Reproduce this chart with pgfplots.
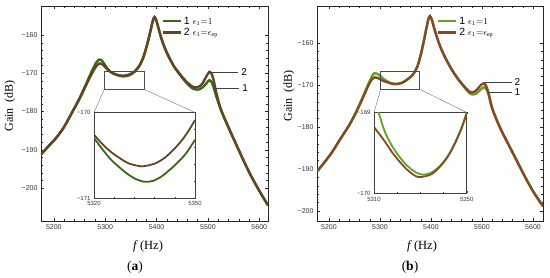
\documentclass[border=0pt]{standalone}
\usepackage{pgfplots}
\pgfplotsset{compat=1.18}
\usepackage{fontspec}
\setmainfont{Liberation Serif}
\setsansfont{Liberation Sans}
\definecolor{gA}{HTML}{3A6818}
\definecolor{bA}{HTML}{634522}
\definecolor{gB}{HTML}{66A026}
\definecolor{bB}{HTML}{844A26}
\pgfplotsset{
  mainax/.style={anchor=south west, scale only axis,
    axis line style={black!85, line width=0.6pt},
    tick style={black!85, line width=0.4pt},
    major tick length=3pt, minor tick length=1.6pt, tick align=inside,
    minor x tick num=4, minor y tick num=4,
    xtick={5200,5300,5400,5500,5600},
    xticklabels={5200,5300,5400,5500,5600},
    ytick={-200,-190,-180,-170,-160},
    yticklabels={−200,−190,−180,−170,−160},
    ticklabel style={font=\sffamily\fontsize{7}{8}\selectfont, text=black!80},
    legend style={draw=none, fill=none, inner sep=0pt, row sep=-1.5pt,
      font=\sffamily\fontsize{10.5}{11}\selectfont},
    legend cell align=left,
    legend image code/.code={\draw[#1] (0pt,0pt) -- (18pt,0pt);},
  },
  inax/.style={anchor=south west, scale only axis,
    axis background/.style={fill=white},
    axis line style={black!75, line width=0.5pt},
    tick style={black!75, line width=0.3pt},
    major tick length=2pt, minor tick length=1pt, tick align=inside,
    ticklabel style={font=\sffamily\fontsize{6}{7}\selectfont, text=black!80},
  },
}
\begin{document}
\begin{tikzpicture}[x=1pt,y=1pt]
\useasboundingbox (0,0) rectangle (550,278);
% ---------------- panel (a) ----------------
\begin{axis}[mainax, at={(41pt,57pt)}, width=227pt, height=215pt,
  xmin=5175, xmax=5617, ymin=-208.6, ymax=-152.4,
  legend style={at={(0.53,0.96)}, anchor=north west}]
\addplot[gA, line width=2.4pt, smooth] coordinates {(5175,-191.2)(5190,-189.0)(5205,-186.8)(5220,-184.0)(5237,-179.8)(5250,-176.5)(5260,-173.6)(5270,-170.6)(5278,-168.3)(5284,-166.9)(5288,-166.4)(5292,-166.5)(5297,-167.3)(5303,-168.5)(5310,-169.6)(5320,-170.3)(5327,-170.63)(5335,-170.81)(5342,-170.69)(5350,-170.32)(5358,-169.5)(5366,-168.2)(5374,-166.0)(5381,-162.8)(5387,-159.6)(5391,-157.2)(5394,-155.7)(5396,-155.3)(5398,-155.6)(5402,-157.3)(5407,-159.8)(5413,-162.3)(5420,-164.6)(5433,-168.0)(5445,-170.3)(5459,-172.6)(5472,-174.1)(5483,-174.2)(5490,-173.6)(5496,-172.8)(5500,-172.1)(5503,-171.8)(5507,-172.2)(5511,-173.6)(5516,-175.9)(5524,-179.1)(5535,-182.6)(5550,-187.1)(5566,-191.8)(5582,-196.3)(5600,-200.7)(5617,-204.5)};
\addlegendentry{1\hspace{3pt}{\fontsize{9}{9}\selectfont$\epsilon_1{=}1$}}
\addplot[bA, line width=2.4pt, smooth] coordinates {(5175,-191.2)(5190,-189.0)(5205,-186.8)(5220,-184.0)(5237,-179.9)(5250,-176.7)(5260,-173.9)(5270,-171.1)(5278,-169.1)(5284,-167.9)(5289,-167.4)(5294,-167.6)(5300,-168.4)(5307,-169.3)(5314,-169.9)(5320,-170.26)(5327,-170.52)(5334,-170.63)(5342,-170.5)(5350,-170.09)(5358,-169.4)(5366,-168.1)(5374,-165.9)(5381,-162.8)(5387,-159.6)(5391,-157.2)(5394,-155.7)(5396,-155.3)(5398,-155.6)(5402,-157.3)(5407,-159.8)(5413,-162.3)(5420,-164.6)(5433,-168.0)(5445,-170.1)(5459,-172.3)(5472,-173.6)(5482,-173.5)(5489,-172.7)(5495,-171.3)(5500,-170.1)(5503,-169.6)(5507,-170.1)(5511,-171.7)(5516,-174.9)(5524,-178.9)(5535,-182.6)(5550,-187.1)(5566,-191.8)(5582,-196.3)(5600,-200.7)(5617,-204.5)};
\addlegendentry{2\hspace{3pt}{\fontsize{9}{9}\selectfont$\epsilon_1{=}\epsilon_{\mathrm{ep}}$}}
\draw[black!70, line width=0.5pt] (axis cs:5298.2,-169.4) rectangle (axis cs:5376.1,-174.2);
\coordinate (a1) at (axis cs:5298.2,-174.2);
\coordinate (a2) at (axis cs:5376.1,-174.2);
\draw[black!75, line width=0.5pt] (axis cs:5505,-169.6) -- (axis cs:5559,-169.6) node[right=-0.5pt, font=\sffamily\fontsize{10}{10}\selectfont, text=black] {2};
\draw[black!75, line width=0.5pt] (axis cs:5511,-173.85) -- (axis cs:5561,-173.85) node[right=-0.5pt, font=\sffamily\fontsize{10}{10}\selectfont, text=black] {1};
\end{axis}
\begin{axis}[inax, name=insA, at={(94pt,80pt)}, width=101pt, height=85.5pt,
  xmin=5320, xmax=5350, ymin=-171, ymax=-170,
  xtick={5320,5350}, xticklabels={5320,5350}, ytick={-171,-170}, yticklabels={−171,−170},
  minor x tick num=4, minor y tick num=4]
\addplot[gA, line width=1.8pt, smooth] coordinates {(5320,-170.30)(5322.5,-170.43)(5325,-170.55)(5327.5,-170.64)(5330,-170.72)(5332.5,-170.78)(5335,-170.81)(5337.5,-170.80)(5340,-170.75)(5342.5,-170.67)(5345,-170.58)(5347.5,-170.47)(5350,-170.32)};
\addplot[bA, line width=1.8pt, smooth] coordinates {(5320,-170.26)(5322.5,-170.37)(5325,-170.46)(5327.5,-170.53)(5330,-170.59)(5332.5,-170.62)(5334,-170.63)(5336,-170.62)(5338.5,-170.59)(5341,-170.53)(5343.5,-170.44)(5346,-170.33)(5348,-170.22)(5350,-170.09)};
\end{axis}
\draw[black!55, line width=0.4pt] (a1) -- (insA.north west);
\draw[black!55, line width=0.4pt] (a2) -- (insA.north east);
% ---------------- panel (b) ----------------
\begin{axis}[mainax, at={(317pt,57pt)}, width=226pt, height=215pt,
  xmin=5176.5, xmax=5619.6, ymin=-202.4, ymax=-151.2,
  legend style={at={(0.53,0.96)}, anchor=north west}]
\addplot[gB, line width=2.4pt, smooth] coordinates {(5176.5,-190.6)(5190,-188.6)(5205,-186.2)(5220,-183.3)(5238,-179.9)(5250,-177.2)(5260,-174.6)(5270,-171.8)(5278,-169.6)(5284,-168.0)(5289,-167.2)(5294,-167.3)(5300,-167.8)(5306,-168.5)(5312,-169.0)(5320,-169.5)(5326,-169.72)(5331,-169.77)(5337,-169.7)(5343,-169.5)(5350,-169.0)(5358,-168.3)(5366,-167.3)(5373,-165.7)(5380,-162.8)(5386,-159.5)(5391,-156.5)(5395,-154.3)(5398,-153.6)(5402,-154.6)(5407,-156.8)(5414,-159.5)(5421,-161.7)(5430,-164.0)(5442,-166.6)(5454,-168.8)(5467,-170.8)(5478,-172.2)(5488,-172.1)(5495,-171.4)(5500,-170.8)(5504,-170.5)(5508,-170.9)(5513,-172.4)(5519,-175.3)(5527,-177.8)(5537,-180.6)(5552,-184.2)(5568,-188.0)(5584,-191.8)(5600,-195.3)(5619.6,-198.9)};
\addlegendentry{1\hspace{3pt}{\fontsize{9}{9}\selectfont$\epsilon_1{=}1$}}
\addplot[bB, line width=2.4pt, smooth] coordinates {(5176.5,-190.6)(5190,-188.6)(5205,-186.2)(5220,-183.3)(5238,-179.9)(5250,-177.3)(5260,-174.8)(5270,-172.1)(5278,-169.9)(5284,-168.7)(5290,-168.2)(5295,-168.3)(5301,-168.7)(5306,-169.0)(5310,-169.18)(5315,-169.40)(5320,-169.59)(5325,-169.74)(5329,-169.80)(5334,-169.76)(5340,-169.60)(5345,-169.40)(5350,-169.0)(5358,-168.3)(5366,-167.3)(5373,-165.7)(5380,-162.8)(5386,-159.5)(5391,-156.5)(5395,-154.3)(5398,-153.6)(5402,-154.6)(5407,-156.8)(5414,-159.5)(5421,-161.7)(5430,-164.0)(5442,-166.6)(5454,-168.7)(5467,-170.6)(5478,-171.8)(5488,-171.4)(5495,-170.4)(5500,-169.8)(5504,-169.6)(5508,-170.2)(5513,-172.0)(5519,-175.1)(5527,-177.8)(5537,-180.6)(5552,-184.2)(5568,-188.0)(5584,-191.8)(5600,-195.3)(5619.6,-198.9)};
\addlegendentry{2\hspace{3pt}{\fontsize{9}{9}\selectfont$\epsilon_1{=}\epsilon_{\mathrm{ep}}$}}
\draw[black!70, line width=0.5pt] (axis cs:5301.4,-166.7) rectangle (axis cs:5377.1,-171.0);
\coordinate (b1) at (axis cs:5301.4,-171.0);
\coordinate (b2) at (axis cs:5377.1,-171.0);
\draw[black!75, line width=0.5pt] (axis cs:5505,-169.35) -- (axis cs:5558,-169.35) node[right=-0.5pt, font=\sffamily\fontsize{10}{10}\selectfont, text=black] {2};
\draw[black!75, line width=0.5pt] (axis cs:5512,-171.7) -- (axis cs:5558,-171.7) node[right=-0.5pt, font=\sffamily\fontsize{10}{10}\selectfont, text=black] {1};
\end{axis}
\begin{axis}[inax, name=insB, at={(374pt,84.7pt)}, width=92.7pt, height=80.8pt,
  xmin=5310, xmax=5350, ymin=-170, ymax=-169,
  xtick={5310,5350}, xticklabels={5310,5350}, ytick={-170,-169}, yticklabels={−170,−169},
  minor x tick num=3, minor y tick num=4]
\addplot[gB, line width=1.8pt, smooth] coordinates {(5311,-168.9)(5312,-169.0)(5314.7,-169.24)(5317.5,-169.40)(5320.5,-169.53)(5324,-169.65)(5328,-169.74)(5331.3,-169.77)(5335,-169.74)(5338.5,-169.66)(5342,-169.53)(5345,-169.37)(5348,-169.17)(5350,-169.0)};
\addplot[bB, line width=1.8pt, smooth] coordinates {(5310,-169.18)(5314.7,-169.36)(5317.5,-169.48)(5320.5,-169.59)(5324,-169.70)(5327,-169.77)(5329.3,-169.80)(5332,-169.79)(5335,-169.76)(5338.5,-169.67)(5342,-169.54)(5345,-169.38)(5348,-169.18)(5350,-169.01)};
\end{axis}
\draw[black!55, line width=0.4pt] (b1) -- (insB.north west);
\draw[black!55, line width=0.4pt] (b2) -- (insB.north east);
% ---------------- outer labels ----------------
\node[rotate=90, font=\fontsize{12}{12}\selectfont] at (10,172) {Gain\ \ (dB)};
\node[rotate=90, font=\fontsize{12}{12}\selectfont] at (289,182) {Gain\ \ (dB)};
\node[font=\fontsize{12.5}{13}\selectfont] at (148,32) {\textit{f}\,(Hz)};
\node[font=\fontsize{12.5}{13}\selectfont] at (422,32) {\textit{f}\,(Hz)};
\node[font=\fontsize{13.5}{14}\selectfont] at (135,11) {(\textbf{a})};
\node[font=\fontsize{13.5}{14}\selectfont] at (410,11) {(\textbf{b})};
\end{tikzpicture}
\end{document}
